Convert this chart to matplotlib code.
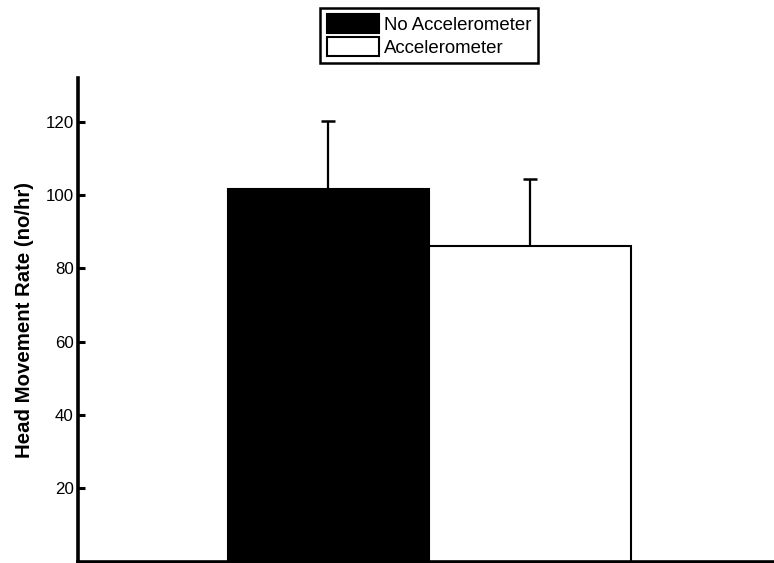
import matplotlib
matplotlib.use("Agg")
import matplotlib.pyplot as plt

plt.rcParams['font.family'] = ['Liberation Sans', 'DejaVu Sans']

groups = ["No Accelerometer", "Accelerometer"]
rates = [101.6, 86.2]
errors = [18.7, 18.3]
face_colors = ["black", "white"]
yticks = [20, 40, 60, 80, 100, 120]

fig = plt.figure(figsize=(7.74, 5.63), dpi=100)
ax = fig.add_axes([78 / 774, 1.5 / 563, 1 - 78 / 774, 483.5 / 563])

xpos = [1, 2]
for x, r, e, fc, name in zip(xpos, rates, errors, face_colors, groups):
    ax.bar(x, r, width=1.0, color=fc, edgecolor="black", linewidth=1.5, label=name, zorder=2)
    ax.errorbar(x, r, yerr=[[0], [e]], fmt="none", ecolor="black",
                elinewidth=1.6, capsize=5, capthick=1.8, zorder=1)

ax.set_xlim(-0.243, 3.211)
ax.set_ylim(0, 132)
ax.set_xticks([])
ax.set_yticks(yticks)
ax.tick_params(axis="y", direction="in", length=5, width=2.2, labelsize=12.2, pad=3)
for side in ["top", "right"]:
    ax.spines[side].set_visible(False)
ax.spines["left"].set_linewidth(2.6)
ax.spines["bottom"].set_linewidth(2.6)
ax.set_ylabel("Head Movement Rate (no/hr)", fontsize=14.7, fontweight="bold", labelpad=8)

leg = ax.legend(loc="center", bbox_to_anchor=(429 / 774, 527.5 / 563),
                bbox_transform=fig.transFigure, fontsize=13.4, frameon=True,
                fancybox=False, framealpha=1, edgecolor="black",
                handlelength=2.8, handleheight=1.15, handletextpad=0.25,
                labelspacing=0.18, borderpad=0.35, borderaxespad=0)
leg.get_frame().set_linewidth(1.8)

fig.savefig("out.png", dpi=100)
